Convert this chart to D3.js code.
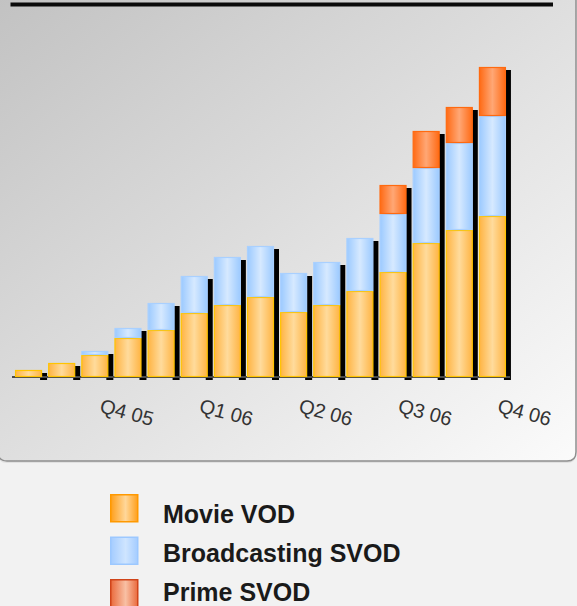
<!DOCTYPE html>
<html>
<head>
<meta charset="utf-8">
<script src="https://cdn.jsdelivr.net/npm/d3@7"></script>
<style>
  html, body { margin: 0; padding: 0; background: #f2f2f2; }
  svg { display: block; }
  text { font-family: "Liberation Sans", Arial, sans-serif; }
</style>
</head>
<body>
<div id="chart"></div>
<script>
// ---- data ----
const months = ["Oct 05","Nov 05","Dec 05","Jan 06","Feb 06","Mar 06","Apr 06","May 06","Jun 06","Jul 06","Aug 06","Sep 06","Oct 06","Nov 06","Dec 06"];
const movieVOD =        [7, 14, 22, 39, 47, 64, 72, 80, 65, 72, 86, 105, 134, 147, 161];
const broadcastingSVOD = [0, 0, 4, 10, 27, 37, 48, 51, 39, 43, 53, 58, 75, 87, 100];
const primeSVOD =        [0, 0, 0, 0, 0, 0, 0, 0, 0, 0, 0, 29, 37, 36, 49];
const tickMonths = ["Dec 05","Mar 06","Jun 06","Sep 06","Dec 06"];
const tickLabels = ["Q4 05","Q1 06","Q2 06","Q3 06","Q4 06"];
const seriesNames = ["Movie VOD","Broadcasting SVOD","Prime SVOD"];
const seriesKeys = ["movie","broadcast","prime"];

const W = 577, H = 606;
const svg = d3.select("#chart").append("svg").attr("width", W).attr("height", H);
const defs = svg.append("defs");

// panel gradient
const pg = defs.append("linearGradient").attr("id","panelGrad")
  .attr("x1",0).attr("y1",0).attr("x2",1).attr("y2",1);
pg.append("stop").attr("offset","0%").attr("stop-color","#c2c2c2");
pg.append("stop").attr("offset","100%").attr("stop-color","#fbfbfb");

// bar gradients
const styles = {
  movie:     {edge:"#ffb443", mid:"#ffdb9c", stroke:"#ffc400", lEdge:"#ff9f1a", lMid:"#ffd79a", lStroke:"#ff9900"},
  broadcast: {edge:"#9ccaff", mid:"#d6e9ff", stroke:"#a9d0ff", lEdge:"#a4ccff", lMid:"#cfe5ff", lStroke:"#9cc8ff"},
  prime:     {edge:"#ff6a14", mid:"#ffa775", stroke:"#ff6a10", lEdge:"#ea6a3c", lMid:"#f8c0a4", lStroke:"#d0441a"}
};
seriesKeys.forEach(k => {
  const s = styles[k];
  const g = defs.append("linearGradient").attr("id","g_"+k).attr("x1",0).attr("x2",1).attr("y1",0).attr("y2",0);
  g.append("stop").attr("offset","0%").attr("stop-color",s.edge);
  g.append("stop").attr("offset","50%").attr("stop-color",s.mid);
  g.append("stop").attr("offset","100%").attr("stop-color",s.edge);
  const lg = defs.append("linearGradient").attr("id","lg_"+k).attr("x1",0).attr("x2",1).attr("y1",0).attr("y2",0);
  lg.append("stop").attr("offset","0%").attr("stop-color",s.lEdge);
  lg.append("stop").attr("offset","55%").attr("stop-color",s.lMid);
  lg.append("stop").attr("offset","100%").attr("stop-color",s.lEdge);
});

// panel with rounded bottom corners
const pB = 461, r = 9;
const panelD = `M-2,-2 H576 V${pB-r} Q576,${pB} ${576-r},${pB} H${-2+r} Q-2,${pB} -2,${pB-r} Z`;
svg.append("path").attr("d", panelD)
  .attr("fill","#d6d6d6").attr("transform","translate(0,2)").attr("opacity",0.6);
svg.append("path").attr("d", panelD)
  .attr("fill","url(#panelGrad)").attr("stroke","#8e8e8e").attr("stroke-width",1.5);

// top rule
svg.append("line").attr("x1",10.5).attr("x2",553).attr("y1",4.5).attr("y2",4.5)
  .attr("stroke","#0a0a0a").attr("stroke-width",4);

// scales
const x = d3.scaleBand().domain(months).range([12, 509]).paddingInner(0.185).paddingOuter(0.0925);
const y = d3.scaleLinear().domain([0, 310]).range([377, 67]);

const table = months.map((m,i) => ({month:m, movie:movieVOD[i], broadcast:broadcastingSVOD[i], prime:primeSVOD[i]}));
const stacked = d3.stack().keys(seriesKeys)(table);
const totals = table.map(d => d.movie + d.broadcast + d.prime);

// shadows (right-side strip)
const dy = 3;
svg.append("g").selectAll("rect").data(table).join("rect")
  .attr("x", d => x(d.month) + x.bandwidth() - 2)
  .attr("y", (d,i) => y(totals[i]) + dy)
  .attr("width", 7)
  .attr("height", (d,i) => y(0) - y(totals[i]))
  .attr("fill","#000");

// baseline
svg.append("line").attr("x1",12).attr("x2",510).attr("y1",377).attr("y2",377)
  .attr("stroke","#4a4a4a").attr("stroke-width",2);

// bars
stacked.forEach(layer => {
  const k = layer.key;
  svg.append("g").selectAll("rect").data(layer.filter(d => d[1] - d[0] > 0)).join("rect")
    .attr("x", d => x(d.data.month) + 0.5)
    .attr("y", d => y(d[1]) + 0.5)
    .attr("width", x.bandwidth() - 1)
    .attr("height", d => Math.max(0, y(d[0]) - y(d[1]) - 1))
    .attr("fill", "url(#g_"+k+")")
    .attr("stroke", styles[k].stroke)
    .attr("stroke-width", 1.2);
});

// axis
const axis = d3.axisBottom(x)
  .tickValues(tickMonths)
  .tickFormat(m => tickLabels[tickMonths.indexOf(m)])
  .tickSize(0);
const ax = svg.append("g").attr("transform","translate(0,377)").call(axis);
ax.select(".domain").remove();
ax.selectAll("text")
  .attr("text-anchor","start")
  .attr("x", 0).attr("y", 0).attr("dy", null)
  .attr("transform","translate(4,35) rotate(15)")
  .attr("fill","#333")
  .style("font-size","20px")
  .style("font-family",'"Liberation Sans", Arial, sans-serif');

// legend
const legend = svg.append("g").attr("transform","translate(110,494)");
seriesKeys.forEach((k,i) => {
  legend.append("rect").attr("x",0.75).attr("y",0.75 + i*42.5).attr("width",27).attr("height",27)
    .attr("fill","url(#lg_"+k+")").attr("stroke",styles[k].lStroke).attr("stroke-width",1.5);
  legend.append("text").attr("x",53).attr("y",29 + i*39).text(seriesNames[i])
    .attr("fill","#1a1a1a").style("font-size","25px").style("font-weight","bold");
});
</script>
</body>
</html>
